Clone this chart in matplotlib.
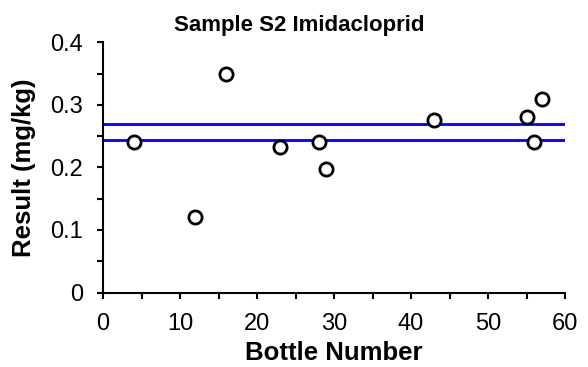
import matplotlib
matplotlib.use("Agg")
import matplotlib.pyplot as plt
from matplotlib.ticker import MultipleLocator, FuncFormatter

plt.rcParams['font.family'] = ['Liberation Sans', 'DejaVu Sans']

# Bottle results for sample S2
bottle = [4, 12, 16, 23, 28, 29, 43, 55, 56, 57]
result = [0.24, 0.12, 0.35, 0.232, 0.24, 0.197, 0.275, 0.28, 0.24, 0.31]
# Reference band limits
band = [0.2432, 0.2688]

W, H = 588, 367
fig = plt.figure(figsize=(W / 100, H / 100), dpi=100)
ax = fig.add_axes([103/W, 1 - 292.5/H, (565-103)/W, (292.5-42.3)/H])

for b in band:
    ax.axhline(b, color='#0000f0', lw=2.0, zorder=1)

ax.plot(bottle, result, linestyle='none', marker='o', ms=9.5, mfc='white',
        mec='black', mew=2.0, zorder=3, clip_on=False)

ax.set_xlim(0, 60)
ax.set_ylim(0, 0.4)
ax.xaxis.set_major_locator(MultipleLocator(10))
ax.xaxis.set_minor_locator(MultipleLocator(5))
ax.yaxis.set_major_locator(MultipleLocator(0.1))
ax.yaxis.set_minor_locator(MultipleLocator(0.05))
ax.yaxis.set_major_formatter(FuncFormatter(lambda v, p: '0' if abs(v) < 1e-9 else f'{v:.1f}'))

for s in ['top', 'right']:
    ax.spines[s].set_visible(False)
for s in ['left', 'bottom']:
    ax.spines[s].set_linewidth(1.5)
ax.tick_params(which='both', direction='out', width=1.5, labelsize=17, pad=10)
ax.tick_params(which='major', length=4.5)
ax.tick_params(which='minor', length=4)

fig.text(299/W, 1 - 25/H, 'Sample S2 Imidacloprid', fontsize=16,
         fontweight='bold', ha='center', va='center')
ax.set_xlabel('Bottle Number', fontsize=18.5, fontweight='bold', va='center')
ax.xaxis.set_label_coords(0.5, (292.5 - 353) / 250.2)
ax.set_ylabel('Result (mg/kg)', fontsize=18.5, fontweight='bold', va='center')
ax.yaxis.set_label_coords((24 - 103) / 462, 0.5)

fig.savefig('out.png', dpi=100)
